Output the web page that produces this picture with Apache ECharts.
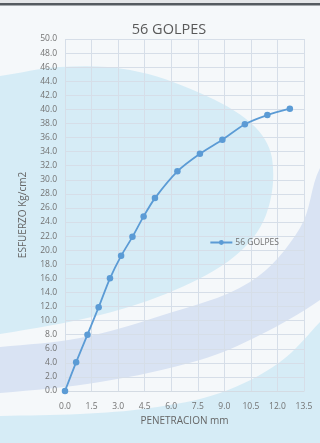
<!DOCTYPE html>
<html>
<head>
<meta charset="utf-8">
<script src="https://cdn.jsdelivr.net/npm/echarts@6/dist/echarts.min.js"></script>
<style>
  html, body { margin: 0; padding: 0; background: #f5f8fa; }
  #chart { width: 320px; height: 443px; }
</style>
</head>
<body>
<div id="chart"></div>
<script>
// Penetration readings (mm) and stress (kg/cm2) for the 56-blow specimen
const penetracion = [0, 0.63, 1.27, 1.90, 2.54, 3.17, 3.81, 4.44, 5.08, 6.35, 7.62, 8.89, 10.16, 11.43, 12.70];
const esfuerzo    = [0, 4.1, 8.0, 11.9, 16.0, 19.2, 21.9, 24.8, 27.4, 31.2, 33.7, 35.7, 37.9, 39.2, 40.1];
const serieNombre = '56 GOLPES';
const titulo = '56 GOLPES';
const ejeX = 'PENETRACION mm';
const ejeY = 'ESFUERZO Kg/cm2';

const puntos = penetracion.map((x, i) => [x, esfuerzo[i]]);

const chart = echarts.init(document.getElementById('chart'), null, { renderer: 'canvas' });

// Watermark swooshes of the printed sheet, drawn behind the plot
const fondo = [
  { type: 'rect', shape: { x: 0, y: 0, width: 320, height: 443 }, style: { fill: '#f5f8fa' } },
  { type: 'polygon', shape: { smooth: 0.35, points: [[-40, 80], [0, 76], [60, 67], [130, 70], [200, 93], [252, 124], [272, 158], [266, 215], [235, 256], [175, 290], [100, 315], [0, 334], [-40, 338]] }, style: { fill: '#d6ecf6' } },
  { type: 'polygon', shape: { smooth: 0.35, points: [[340, 150], [320, 168], [300, 228], [250, 282], [160, 316], [80, 338], [0, 347], [-40, 350], [-40, 394], [0, 393], [100, 382], [200, 360], [260, 335], [320, 300], [340, 280]] }, style: { fill: '#d9e3f3' } },
  { type: 'polygon', shape: { smooth: 0.35, points: [[340, 300], [320, 322], [280, 362], [220, 393], [150, 408], [80, 414], [0, 416], [-40, 417], [-40, 480], [360, 480]] }, style: { fill: '#d6ecf6' } },
  { type: 'rect', shape: { x: 0, y: 0, width: 320, height: 3 }, style: { fill: '#e4e6e8' } },
  { type: 'rect', shape: { x: 0, y: 3, width: 320, height: 2.5 }, style: { fill: '#555b60' } }
].map(e => Object.assign(e, { silent: true, z: -10 }));

const fuente = 'Open Sans';

chart.setOption({
  backgroundColor: 'transparent',
  animation: false,
  graphic: { elements: fondo },
  title: {
    text: titulo,
    left: 164, top: 17, textAlign: 'center',
    textStyle: { fontFamily: fuente, fontSize: 14.5, fontWeight: 'normal', color: '#595959' }
  },
  legend: {
    data: [serieNombre],
    right: 36, top: 233,
    itemWidth: 22, itemHeight: 6, itemGap: 3,
    textStyle: { fontFamily: fuente, fontSize: 8.5, color: '#6e6e6e', padding: [0, 0, 0, -2] }
  },
  grid: { left: 65, right: 16, top: 39, bottom: 52, containLabel: false },
  xAxis: {
    type: 'value', min: 0, max: 13.5, interval: 1.5,
    name: ejeX, nameLocation: 'middle', nameGap: 25,
    nameTextStyle: { fontFamily: fuente, fontSize: 10, color: '#656565' },
    axisLine: { show: true, lineStyle: { color: '#d4dbe3', width: 1 } },
    axisTick: { show: false },
    axisLabel: { margin: 11, fontFamily: fuente, fontSize: 8.5, color: '#727272', formatter: v => v.toFixed(1) },
    splitLine: { show: true, lineStyle: { color: '#d6dee8', width: 1 } }
  },
  yAxis: {
    type: 'value', min: 0, max: 50, interval: 2,
    name: ejeY, nameLocation: 'middle', nameGap: 37, nameRotate: 90,
    nameTextStyle: { fontFamily: fuente, fontSize: 10, color: '#656565' },
    axisLine: { show: false },
    axisTick: { show: false },
    axisLabel: { margin: 8, fontFamily: fuente, fontSize: 8.5, color: '#727272', formatter: v => v.toFixed(1) },
    splitLine: { show: true, lineStyle: { color: '#d6dee8', width: 1 } }
  },
  series: [{
    name: serieNombre,
    type: 'line',
    data: puntos,
    smooth: 0.25,
    symbol: 'circle',
    symbolSize: 6.5,
    lineStyle: { color: '#5b9bd5', width: 1.8 },
    itemStyle: { color: '#5b9bd5' },
    z: 5
  }]
});
</script>
</body>
</html>
